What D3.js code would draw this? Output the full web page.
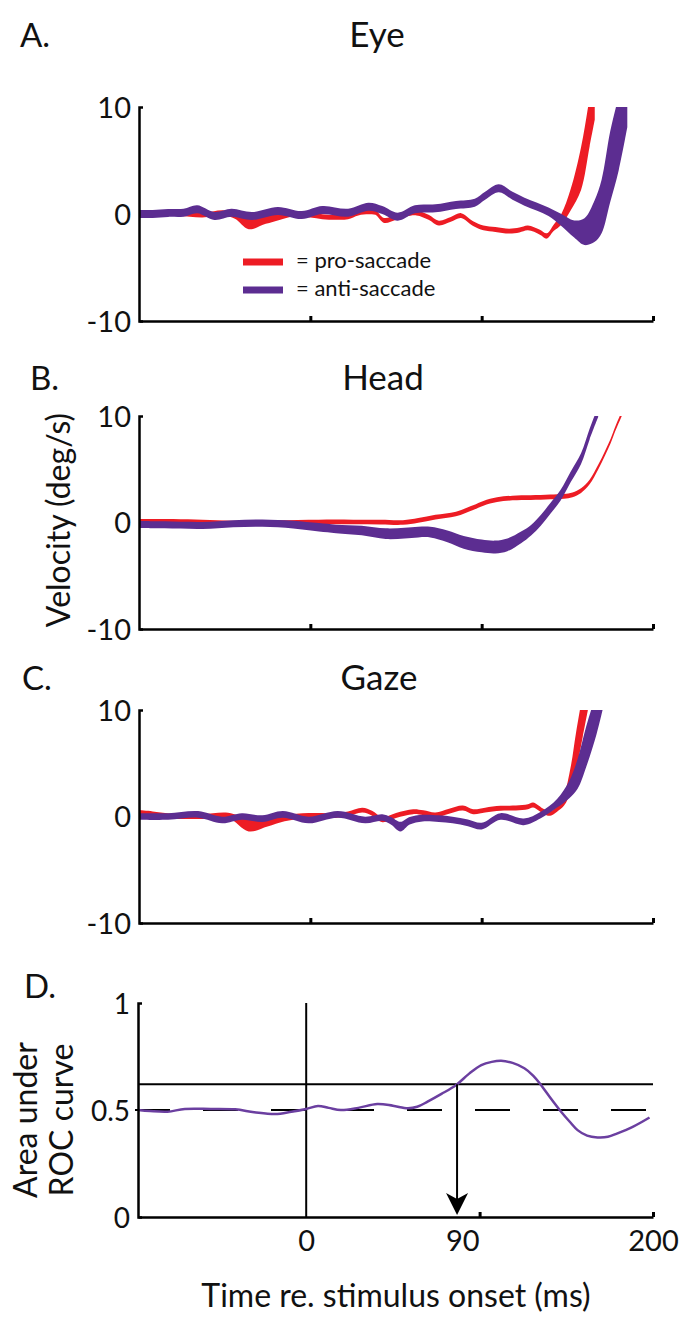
<!DOCTYPE html>
<html><head><meta charset="utf-8">
<script src="https://cdn.jsdelivr.net/npm/d3@7"></script>
<style>
html,body{margin:0;padding:0;background:#fff;}
svg{display:block;font-family:Lato,"Open Sans",sans-serif;}
</style></head><body>
<svg id="chart" width="686" height="1331"></svg>
<script>
// ---------- DATA (time in ms re. stimulus onset, velocity deg/s) ----------
const velTicks = [-10, 0, 10];
const timeTicks = [0, 100, 200];
const rocYTicks = [0, 0.5, 1];
const rocTimeTicks = [100, 200];
const rocTimeLabels = [0, 90, 200];

// Eye, anti-saccade (mean and SE half-width)
const eyeAntiT  = [-100,-92,-83,-74,-66,-56,-46,-34,-19,-5,7,22,34,42,51,61,73,85,96,102,110,118,125,132,139,146,154,160,166,170,175,180,185];
const eyeAnti   = [0.0,0.0,0.1,0.12,0.44,-0.19,0.12,-0.19,0.28,-0.1,0.37,0.12,0.68,0.37,-0.25,0.44,0.53,0.84,1.05,1.7,2.4,1.7,1.15,0.7,0.21,-0.5,-1.4,-1.65,-0.65,0.7,4.4,7.6,11.6];
const eyeAntiSe = [0.37,0.37,0.37,0.37,0.37,0.37,0.37,0.37,0.37,0.37,0.37,0.37,0.37,0.37,0.37,0.37,0.37,0.37,0.37,0.37,0.37,0.37,0.37,0.37,0.4,0.55,0.8,1.25,1.95,2.5,3.3,3.5,3.5];
// Eye, pro-saccade
const eyeProT  = [-100,-90,-77,-63,-51,-44,-36,-26,-18,-8,0,7,15,22,28,34,38,43,50,56,62,69,75,82,88,95,101,108,116,122,127,134,138,142,146.5,152,158,163,166];
const eyePro   = [0.1,0.05,0.07,-0.1,0.12,-0.15,-0.77,-0.5,-0.25,0.05,-0.1,-0.25,-0.3,-0.25,0.1,0.2,0.15,-0.6,-0.3,0.0,0.1,-0.3,-0.85,-0.5,-0.15,-0.9,-1.3,-1.45,-1.6,-1.5,-1.3,-1.7,-2.05,-1.3,-0.5,1.35,4.25,8.6,11.4];
const eyeProSe = [0.23,0.23,0.23,0.23,0.23,0.3,0.65,0.42,0.3,0.23,0.23,0.23,0.23,0.23,0.23,0.23,0.23,0.23,0.23,0.23,0.23,0.23,0.23,0.23,0.23,0.23,0.23,0.23,0.23,0.23,0.23,0.23,0.25,0.3,0.5,1.0,2.0,2.3,2.6];

// Head, anti-saccade
const headAntiT  = [-100,-85,-63,-45,-28,-10,5,15,30,44,55,63,70,80,89.5,100,108,115,123,129,134.5,140,146,152,158,163,168];
const headAnti   = [-0.19,-0.22,-0.28,-0.12,-0.06,-0.2,-0.45,-0.6,-0.75,-1.05,-1.0,-0.9,-0.9,-1.3,-1.86,-2.2,-2.3,-2.1,-1.4,-0.7,0.2,1.3,2.55,4.3,6.0,8.3,10.4];
const headAntiSe = [0.33,0.33,0.33,0.33,0.35,0.37,0.4,0.4,0.45,0.5,0.5,0.5,0.5,0.55,0.6,0.6,0.6,0.6,0.55,0.5,0.5,0.5,0.5,0.5,0.5,0.5,0.5];
// Head, pro-saccade
const headProT  = [-100,-80,-63,-45,-20,5,25,41,54,63,73,85,95,101,109,118,128.6,140,148,153,158,163,168,172,175.4,178,182];
const headPro   = [0.12,0.1,0.03,-0.05,0.0,0.05,0.05,0.03,0.0,0.2,0.5,0.8,1.4,1.8,2.14,2.3,2.33,2.4,2.45,2.6,3.0,3.8,5.2,6.5,7.7,8.8,10.3];
const headProSe = [0.22,0.22,0.22,0.22,0.22,0.22,0.22,0.22,0.22,0.22,0.22,0.22,0.22,0.22,0.22,0.22,0.22,0.22,0.22,0.22,0.22,0.22,0.22,0.22,0.22,0.22,0.22];

// Gaze, anti-saccade
const gazeAntiT  = [-100,-83,-65.5,-51.5,-40,-28,-16,-1,16,32,42,47,52.6,58,65.5,75,83,92,100,111,124.6,134.5,144,151,156,161,167,172];
const gazeAnti   = [0.0,0.0,0.2,-0.33,0.0,-0.2,0.2,-0.33,0.2,-0.33,-0.1,-0.4,-0.95,-0.4,-0.15,-0.2,-0.33,-0.6,-0.9,0.0,-0.5,0.14,1.24,2.5,4.0,6.55,9.7,13];
const gazeAntiSe = [0.31,0.31,0.31,0.31,0.31,0.31,0.31,0.31,0.31,0.31,0.31,0.35,0.45,0.35,0.31,0.31,0.31,0.31,0.31,0.31,0.31,0.31,0.4,0.8,1.4,1.9,2.0,2.0];
// Gaze, pro-saccade
const gazeProT  = [-100,-92,-77,-63,-48,-36,-25,-15,-1,14.6,22,30.4,36,42,50,60,66,73,81,89,95,102,111,120,127,130,136.5,140,144,148,152,155,159,162];
const gazePro   = [0.3,0.2,0.0,0.0,0.1,-0.8,-0.5,-0.15,0.1,0.1,0.25,0.6,0.3,-0.3,0.1,0.45,0.35,0.15,0.5,0.8,0.45,0.6,0.77,0.8,0.92,1.08,0.45,0.3,0.7,1.5,3.5,6.0,9.5,12];
const gazeProSe = [0.3,0.28,0.23,0.23,0.25,0.6,0.45,0.3,0.23,0.23,0.23,0.23,0.23,0.23,0.23,0.23,0.23,0.23,0.23,0.23,0.23,0.23,0.23,0.23,0.23,0.23,0.23,0.23,0.25,0.5,1.2,1.8,2.0,2.0];

// ROC area (anti vs pro)
const rocT = [-97,-90,-80,-70,-55,-41,-30,-18,-8.5,0,6.8,13,20,30,41,50,58.6,64,70,78,86.5,94,101,107,112.4,119,125.8,131,135.4,141,147,152,156.5,162,168,174,179.5,188,198];
const roc  = [0.5,0.495,0.492,0.505,0.505,0.503,0.49,0.481,0.492,0.505,0.519,0.51,0.5,0.51,0.528,0.52,0.508,0.515,0.539,0.575,0.617,0.67,0.71,0.725,0.73,0.72,0.695,0.66,0.617,0.555,0.492,0.445,0.406,0.38,0.372,0.375,0.391,0.42,0.465];
const rocThreshold = 0.62;
const rocChance = 0.5;
const rocCrossT = 87;

// ---------- DRAWING ----------
const RED = "#ed1c24", PURPLE = "#5c2d91", ROCCOL = "#6b3fa0";
const svg = d3.select("#chart");
const defs = svg.append("defs");
const x = d3.scaleLinear().domain([-100, 200]).range([139, 653]);
const plain = d => String(d);

function zip(t, v, se) { return t.map((tt, i) => ({t: tt, v: v[i], se: se[i]})); }

function styleAxis(g, size) {
  g.attr("font-family", "Lato, 'Open Sans', sans-serif").attr("font-size", size);
  g.selectAll("text").attr("fill", "#111");
  g.select(".domain").attr("stroke", "#000").attr("stroke-width", 2.5);
}

function panel(key, top, bottom, series) {
  const y = d3.scaleLinear().domain([-10, 10]).range([bottom, top]);
  defs.append("clipPath").attr("id", "clip" + key).append("rect")
    .attr("x", x(-100)).attr("y", top).attr("width", x(200) - x(-100) + 6).attr("height", bottom - top);
  const g = svg.append("g");
  const area = d3.area().curve(d3.curveCatmullRom.alpha(0.5))
    .x(d => x(d.t)).y0(d => y(d.v - d.se)).y1(d => y(d.v + d.se));
  series.forEach(s => {
    g.append("path").datum(s.data).attr("d", area).attr("fill", s.color)
      .attr("clip-path", `url(#clip${key})`);
  });
  const ya = g.append("g").attr("transform", `translate(${x(-100)},0)`)
    .call(d3.axisLeft(y).tickValues(velTicks).tickSizeInner(0).tickSizeOuter(-4).tickPadding(8).tickFormat(plain));
  styleAxis(ya, 29);
  ya.selectAll("text").attr("dy", "0.36em");
  const xa = g.append("g").attr("transform", `translate(0,${bottom})`)
    .call(d3.axisBottom(x).tickValues(timeTicks).tickSizeInner(-5).tickSizeOuter(0).tickFormat(""));
  styleAxis(xa, 10);
  xa.selectAll(".tick line").attr("stroke", "#000").attr("stroke-width", 3);
  return y;
}

// Panel titles and letters
function label(txt, xx, yy, size, anchor) {
  svg.append("text").attr("x", xx).attr("y", yy).attr("font-size", size)
    .attr("text-anchor", anchor || "start").attr("fill", "#111").text(txt);
}
label("A.", 20, 47, 33); label("Eye", 377, 47, 35, "middle");
label("B.", 30, 390, 33); label("Head", 383, 390, 35, "middle");
label("C.", 22, 690, 33); label("Gaze", 379, 690, 35, "middle");
label("D.", 24, 998, 33);

panel("A", 107, 321, [
  {color: RED, data: zip(eyeProT, eyePro, eyeProSe)},
  {color: PURPLE, data: zip(eyeAntiT, eyeAnti, eyeAntiSe)}
]);
panel("B", 416, 629, [
  {color: RED, data: zip(headProT, headPro, headProSe)},
  {color: PURPLE, data: zip(headAntiT, headAnti, headAntiSe)}
]);
panel("C", 710, 923, [
  {color: RED, data: zip(gazeProT, gazePro, gazeProSe)},
  {color: PURPLE, data: zip(gazeAntiT, gazeAnti, gazeAntiSe)}
]);

// Legend (panel A)
[["= pro-saccade", RED, 262], ["= anti-saccade", PURPLE, 290]].forEach(([txt, col, yy]) => {
  svg.append("line").attr("x1", 243).attr("x2", 283).attr("y1", yy).attr("y2", yy)
    .attr("stroke", col).attr("stroke-width", 7);
  svg.append("text").attr("x", 296).attr("y", yy + 6).attr("font-size", 22).attr("fill", "#111").text(txt);
});

// Velocity axis title
svg.append("text").attr("transform", "translate(70,520) rotate(-90)").attr("text-anchor", "middle")
  .attr("font-size", 32).attr("fill", "#111").text("Velocity (deg/s)");

// Panel D: ROC
const xD = d3.scaleLinear().domain([-97, 200]).range([138, 653]);
const yD = d3.scaleLinear().domain([0, 1]).range([1217, 1003]);
const gD = svg.append("g");
gD.append("line").attr("x1", xD(-97) - 3).attr("x2", xD(200)).attr("y1", yD(rocChance)).attr("y2", yD(rocChance))
  .attr("stroke", "#000").attr("stroke-width", 2.2).attr("stroke-dasharray", "35,33");
gD.append("line").attr("x1", xD(-97)).attr("x2", xD(200)).attr("y1", yD(rocThreshold)).attr("y2", yD(rocThreshold))
  .attr("stroke", "#000").attr("stroke-width", 2);
gD.append("line").attr("x1", xD(0)).attr("x2", xD(0)).attr("y1", yD(1)).attr("y2", yD(0))
  .attr("stroke", "#000").attr("stroke-width", 2);
gD.append("path").datum(rocT.map((t, i) => ({t, v: roc[i]})))
  .attr("d", d3.line().curve(d3.curveCatmullRom.alpha(0.5)).x(d => xD(d.t)).y(d => yD(d.v)))
  .attr("fill", "none").attr("stroke", ROCCOL).attr("stroke-width", 2.5);
// arrow
const ax = xD(rocCrossT), tipY = yD(0) - 2;
gD.append("line").attr("x1", ax).attr("x2", ax).attr("y1", yD(rocThreshold)).attr("y2", tipY - 16)
  .attr("stroke", "#000").attr("stroke-width", 2);
gD.append("path").attr("d", `M${ax},${tipY} L${ax - 11},${tipY - 22} L${ax},${tipY - 16} L${ax + 11},${tipY - 22} Z`)
  .attr("fill", "#000");

const yaD = gD.append("g").attr("transform", `translate(${xD(-97)},0)`)
  .call(d3.axisLeft(yD).tickValues(rocYTicks).tickSizeInner(0).tickSizeOuter(-4).tickPadding(8).tickFormat(plain));
styleAxis(yaD, 28);
yaD.selectAll("text").attr("dy", "0.36em");
const xaD = gD.append("g").attr("transform", `translate(0,${yD(0)})`)
  .call(d3.axisBottom(xD).tickValues(rocTimeTicks).tickSizeInner(-5).tickSizeOuter(0).tickFormat(""));
styleAxis(xaD, 10);
xaD.selectAll(".tick line").attr("stroke", "#000").attr("stroke-width", 3);
const xlD = gD.append("g").attr("transform", `translate(0,${yD(0)})`)
  .call(d3.axisBottom(xD).tickValues(rocTimeLabels).tickSize(0).tickPadding(13).tickFormat(plain));
styleAxis(xlD, 29);
xlD.select(".domain").remove();

svg.append("text").attr("transform", "translate(37,1120) rotate(-90)").attr("text-anchor", "middle")
  .attr("font-size", 32).attr("fill", "#111").text("Area under");
svg.append("text").attr("transform", "translate(73,1120) rotate(-90)").attr("text-anchor", "middle")
  .attr("font-size", 32).attr("fill", "#111").text("ROC curve");

svg.append("text").attr("x", 396).attr("y", 1307).attr("text-anchor", "middle")
  .attr("font-size", 32).attr("fill", "#111").text("Time re. stimulus onset (ms)");
</script>
</body></html>
